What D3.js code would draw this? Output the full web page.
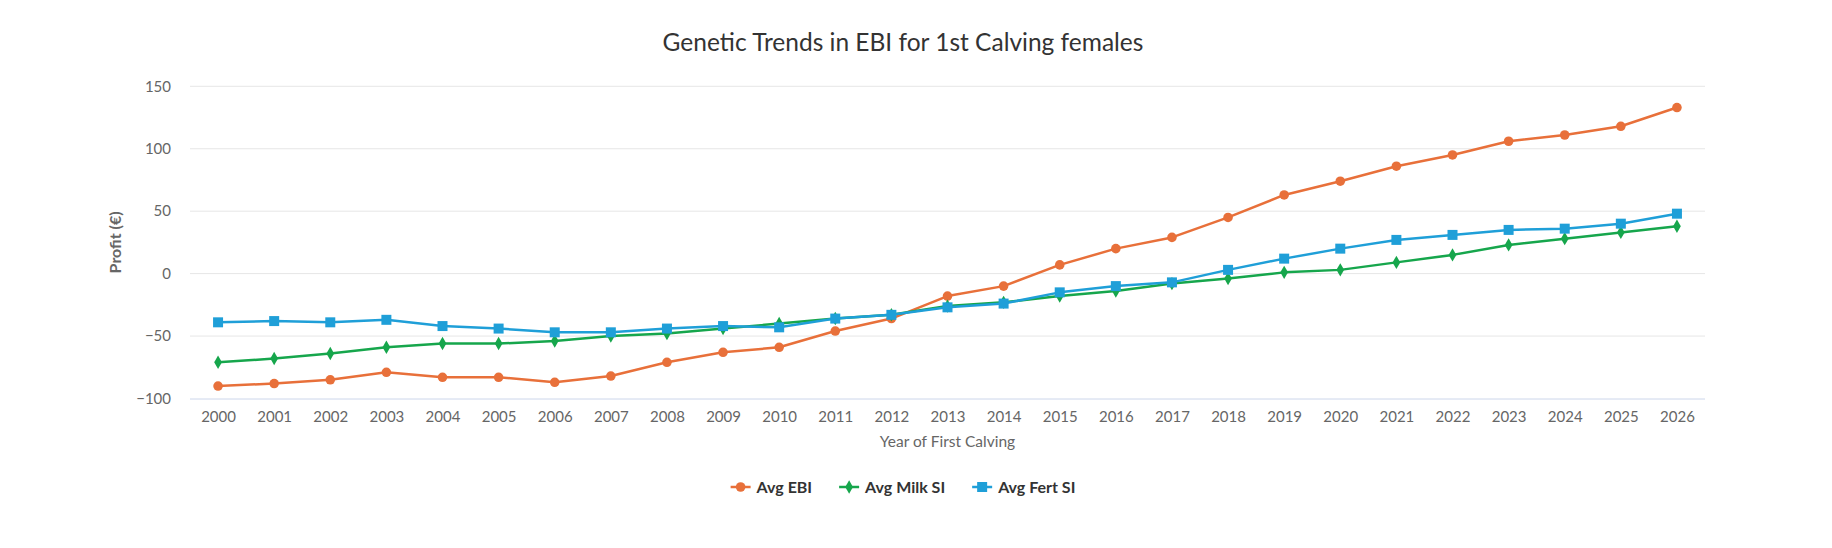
<!DOCTYPE html>
<html>
<head>
<meta charset="utf-8">
<script src="https://cdn.jsdelivr.net/npm/d3@7"></script>
<style>
  body { margin: 0; background: #fff; }
  svg { font-family: Lato, "Open Sans", sans-serif; }
</style>
</head>
<body>
<div id="chart"></div>
<script>
const years = d3.range(2000, 2027).map(String);
const avgEbi = [-90, -88, -85, -79, -83, -83, -87, -82, -71, -63, -59, -46, -36, -18, -10, 7, 20, 29, 45, 63, 74, 86, 95, 106, 111, 118, 133];
const avgMilk = [-71, -68, -64, -59, -56, -56, -54, -50, -48, -44, -40, -36, -33, -26, -23, -18, -14, -8, -4, 1, 3, 9, 15, 23, 28, 33, 38];
const avgFert = [-39, -38, -39, -37, -42, -44, -47, -47, -44, -42, -43, -36, -33, -27, -24, -15, -10, -7, 3, 12, 20, 27, 31, 35, 36, 40, 48];
const yTicks = [-100, -50, 0, 50, 100, 150];

const series = [
  { name: "Avg EBI", values: avgEbi, color: "#e8703a", symbol: "circle" },
  { name: "Avg Milk SI", values: avgMilk, color: "#16a64c", symbol: "diamond" },
  { name: "Avg Fert SI", values: avgFert, color: "#1f9fd8", symbol: "square" }
];

const W = 1832, H = 548;
const margin = { top: 86.3, right: 127, bottom: 149.5, left: 190 };
const width = W - margin.left - margin.right;
const height = H - margin.top - margin.bottom;
const centerX = 903;

const svg = d3.select("#chart").append("svg")
  .attr("width", W)
  .attr("height", H);

const g = svg.append("g")
  .attr("transform", `translate(${margin.left},${margin.top})`);

const x = d3.scalePoint().domain(years).range([0, width]).padding(0.5);
const y = d3.scaleLinear().domain([-100, 150]).range([height, 0]);

// grid lines
g.append("g")
  .selectAll("line")
  .data(yTicks.filter(d => d !== -100))
  .join("line")
  .attr("x1", 0).attr("x2", width)
  .attr("y1", d => y(d)).attr("y2", d => y(d))
  .attr("stroke", "#e6e6e6");

// y axis labels
const yAxis = g.append("g")
  .call(d3.axisLeft(y).tickValues(yTicks).tickSize(0).tickPadding(19)
    .tickFormat(d => d < 0 ? "\u2212" + Math.abs(d) : d));
yAxis.select(".domain").remove();
yAxis.selectAll("text")
  .attr("font-family", "Lato, sans-serif")
  .attr("font-size", 15)
  .attr("fill", "#666");

// x axis
const xAxis = g.append("g")
  .attr("transform", `translate(0,${height})`)
  .call(d3.axisBottom(x).tickSize(0).tickPadding(13));
xAxis.select(".domain")
  .attr("stroke", "#ccd6eb")
  .attr("d", `M0,0.5H${width}`);
xAxis.selectAll("text")
  .attr("font-family", "Lato, sans-serif")
  .attr("font-size", 15)
  .attr("fill", "#666");

// axis titles
svg.append("text")
  .attr("x", margin.left + width / 2)
  .attr("y", 447)
  .attr("text-anchor", "middle")
  .attr("font-size", 15.5)
  .attr("fill", "#666")
  .text("Year of First Calving");

svg.append("text")
  .attr("transform", `translate(121,${margin.top + height / 2}) rotate(-90)`)
  .attr("text-anchor", "middle")
  .attr("font-size", 16)
  .attr("font-weight", "bold")
  .attr("fill", "#666")
  .text("Profit (\u20ac)");

// title
svg.append("text")
  .attr("x", centerX)
  .attr("y", 51)
  .attr("text-anchor", "middle")
  .attr("font-size", 24.5)
  .attr("fill", "#333")
  .text("Genetic Trends in EBI for 1st Calving females");

const symbolType = { circle: d3.symbolCircle, diamond: d3.symbolDiamond, square: d3.symbolSquare };
const symbolSize = { circle: 72, diamond: 52, square: 100 };

const line = d3.line()
  .x((d, i) => x(years[i]))
  .y(d => y(d));

series.forEach(s => {
  const sg = g.append("g");
  sg.append("path")
    .datum(s.values)
    .attr("fill", "none")
    .attr("stroke", s.color)
    .attr("stroke-width", 2.5)
    .attr("stroke-linejoin", "round")
    .attr("d", line);
  sg.selectAll("path.pt")
    .data(s.values)
    .join("path")
    .attr("class", "pt")
    .attr("transform", (d, i) => `translate(${x(years[i])},${y(d)})`)
    .attr("d", d3.symbol(symbolType[s.symbol], symbolSize[s.symbol]))
    .attr("fill", s.color);
});

// legend
const legend = svg.append("g");
let cursor = 0;
series.forEach(s => {
  const item = legend.append("g").attr("transform", `translate(${cursor},0)`);
  item.append("line")
    .attr("x1", 0).attr("x2", 20)
    .attr("stroke", s.color)
    .attr("stroke-width", 2.5);
  item.append("path")
    .attr("transform", "translate(10,0)")
    .attr("d", d3.symbol(symbolType[s.symbol], symbolSize[s.symbol]))
    .attr("fill", s.color);
  const t = item.append("text")
    .attr("x", 26)
    .attr("dy", "0.35em")
    .attr("font-size", 16)
    .attr("font-weight", "bold")
    .attr("fill", "#333")
    .text(s.name);
  cursor += 26 + t.node().getComputedTextLength() + 27;
});
const legendWidth = cursor - 27;
legend.attr("transform", `translate(${centerX - legendWidth / 2},487)`);
</script>
</body>
</html>
